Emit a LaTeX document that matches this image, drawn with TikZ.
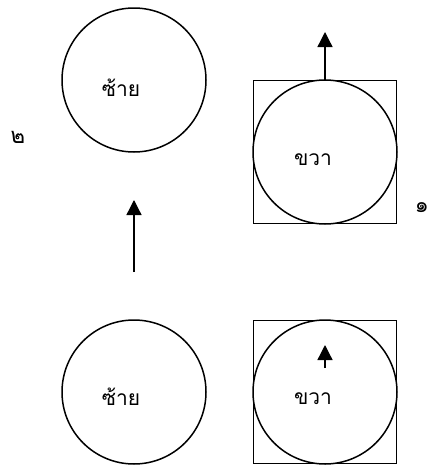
\documentclass[tikz,border=0pt]{standalone}
\usepackage{fontspec}
\newfontfamily\thaifont[Script=Thai]{Loma}
\usetikzlibrary{arrows.meta,positioning}

\begin{document}
\begin{tikzpicture}[x=1pt,y=-1pt,
  c/.style={circle, draw, line width=1.5pt, minimum size=144pt, inner sep=0pt},
  sq/.style={rectangle, draw, line width=1.2pt, minimum size=143pt, inner sep=0pt},
  lbl/.style={font=\thaifont\fontsize{21}{24}\selectfont, inner sep=0pt},
  num/.style={font=\thaifont\fontsize{22}{25}\selectfont, inner sep=0pt},
  a/.style={line width=1.3pt, -{Triangle[length=15pt,width=15pt]}}]
\useasboundingbox (0,0) rectangle (430,466);
% top row
\node[c] (CL1) at (134,80) {};
\node[sq] (SR1) at (325,152) {};
\node[c] (CR1) at (325,152) {};
\node[lbl] (tL1) at (121,88) {ซ้าย};
\node[lbl] (tR1) at (313,160) {ขวา};
\node[num] (n2) at (18,137) {๒};
\node[num, anchor=east] (n1) at (429,208) {๑};
% bottom row
\node[c] (CL2) at (134,392) {};
\node[sq] (SR2) at (325,392) {};
\node[c] (CR2) at (325,392) {};
\node[lbl] (tL2) at (121,397) {ซ้าย};
\node[lbl] (tR2) at (313,399) {ขวา};
% arrows
\coordinate (p1) at (325,32);
\coordinate (m0) at (134,272);
\coordinate (m1) at (134,200);
\coordinate (s0) at (325,368);
\coordinate (s1) at (325,345);
\draw[a] (SR1.north) -- (p1);
\draw[a] (m0) -- (m1);
\draw[a] (s0) -- (s1);
\end{tikzpicture}
\end{document}
